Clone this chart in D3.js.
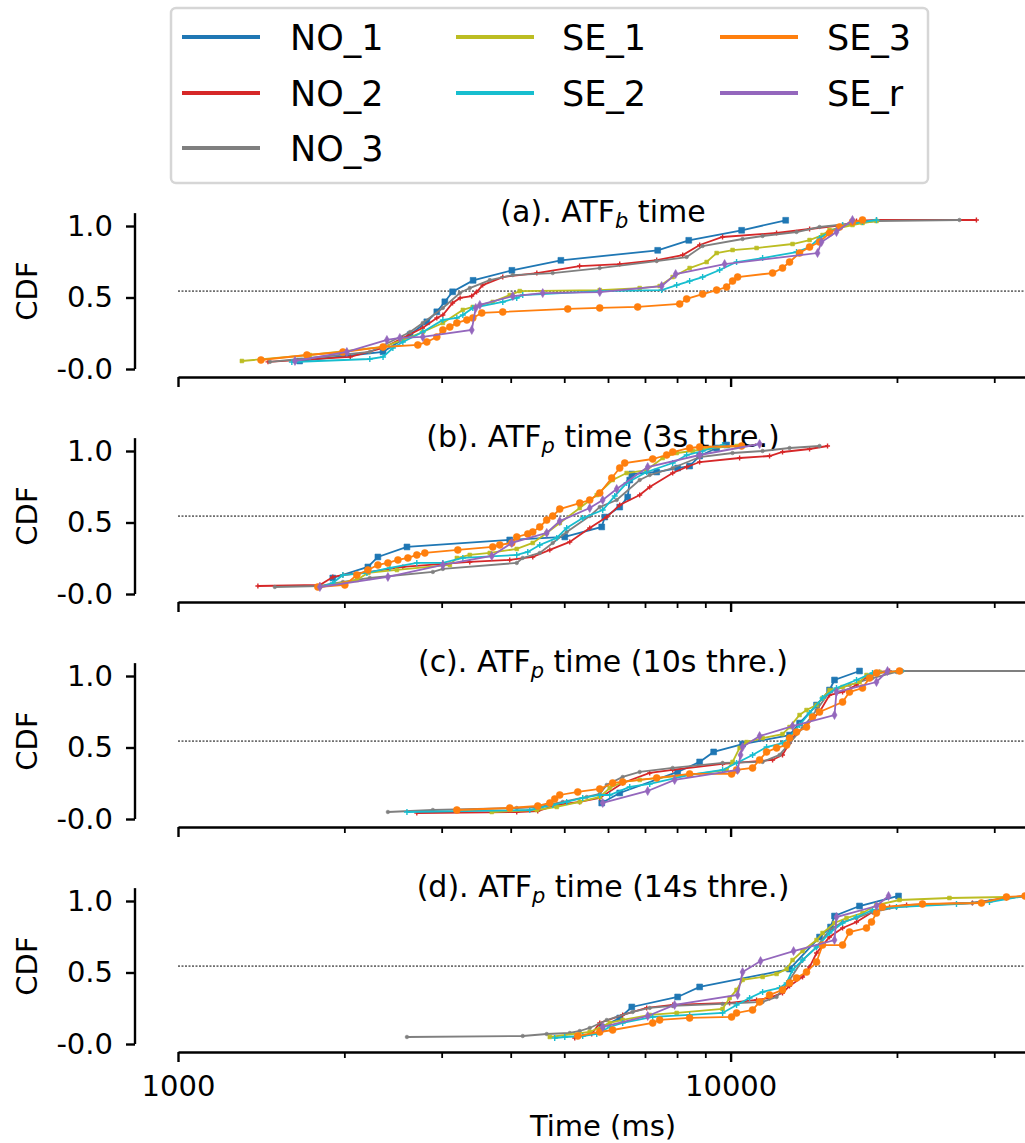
<!DOCTYPE html>
<html lang="en">
<head>
<meta charset="UTF-8">
<title>ATF time CDF</title>
<script src="https://d3js.org/d3.v7.min.js"></script>
<style>
    body { margin: 0; background: #fff; }
    svg { display: block; font-family: "DejaVu Sans", sans-serif; }
</style>
</head>
<body>
<svg id="chart" width="1025" height="1143"></svg>
<script>
    // series names and colours (legend order, column-wise)
    const seriesNames = ["NO_1", "NO_2", "NO_3", "SE_1", "SE_2", "SE_3", "SE_r"];
    const seriesColors = ["#1f77b4", "#d62728", "#7f7f7f", "#bcbd22", "#17becf", "#ff7f0e", "#9467bd"];

    const titleHead = ["(a). ATF", "(b). ATF", "(c). ATF", "(d). ATF"];
    const titleSub = ["b", "p", "p", "p"];
    const titleTail = [" time", " time (3s thre.)", " time (10s thre.)", " time (14s thre.)"];

    const yTicks = [0, 0.5, 1.0];
    const yTickLabels = ["-0.0", "0.5", "1.0"];
    const xMajorTicks = [1000, 10000];
    const xMinorTicks = [2000, 3000, 4000, 5000, 6000, 7000, 8000, 9000, 20000, 30000];
    const refLevel = 0.545;

    // [time ms, CDF]
    // (a) ATF_b time
    const a_NO_1 = [[1660,0.056],[2350,0.12],[2630,0.24],[2820,0.33],[2940,0.40],[3040,0.47],[3140,0.54],[3420,0.62],[4020,0.69],[4930,0.76],[7380,0.83],[8400,0.90],[10470,0.97],[12580,1.04]];
    const a_NO_2 = [[1455,0.05],[2050,0.085],[2350,0.147],[2550,0.217],[2770,0.287],[2940,0.357],[3015,0.378],[3140,0.462],[3240,0.497],[3400,0.51],[3470,0.538],[3560,0.587],[3870,0.643],[4460,0.671],[5330,0.72],[6300,0.734],[7350,0.762],[8190,0.797],[8790,0.867],[9670,0.923],[12110,0.951],[13900,0.979],[15950,1.007],[16900,1.035],[18370,1.042],[27850,1.042]];
    const a_NO_3 = [[1467,0.05],[1732,0.077],[2224,0.119],[2630,0.259],[2773,0.322],[3015,0.427],[3236,0.531],[3373,0.566],[3666,0.622],[4035,0.657],[4766,0.671],[5797,0.706],[7349,0.755],[8327,0.783],[8900,0.86],[10512,0.909],[11427,0.93],[13162,0.958],[14486,0.993],[18365,1.035],[25950,1.042]];
    const a_SE_1 = [[1305,0.056],[1732,0.098],[2350,0.154],[2552,0.203],[2773,0.259],[3015,0.322],[3277,0.413],[3416,0.434],[3712,0.469],[3984,0.517],[4154,0.545],[5797,0.552],[6847,0.566],[7442,0.58],[7856,0.643],[8431,0.706],[9050,0.748],[9434,0.811],[10083,0.832],[11143,0.846],[12946,0.874],[13897,0.902],[14669,0.937],[15102,0.972],[16617,1.007],[17326,1.021],[18365,1.035]];
    const a_SE_2 = [[1607,0.049],[2224,0.07],[2350,0.084],[2448,0.147],[2552,0.189],[2773,0.259],[3015,0.343],[3196,0.357],[3277,0.378],[3416,0.427],[3870,0.469],[4102,0.497],[4206,0.517],[5797,0.545],[7503,0.552],[7988,0.587],[8431,0.615],[8900,0.643],[9553,0.692],[10252,0.748],[11427,0.776],[13162,0.818],[13897,0.853],[14486,0.916],[15102,0.958],[15946,1.007],[17326,1.028],[18365,1.042]];
    const a_SE_3 = [[1413,0.063],[1711,0.098],[1988,0.119],[2350,0.154],[2716,0.168],[2820,0.189],[2940,0.224],[3015,0.273],[3104,0.294],[3196,0.322],[3332,0.343],[3416,0.357],[3546,0.392],[3870,0.399],[5074,0.42],[5797,0.427],[6789,0.434],[8088,0.455],[8327,0.49],[8900,0.524],[9434,0.552],[9835,0.573],[10083,0.615],[10297,0.643],[11912,0.671],[12416,0.706],[12785,0.748],[13329,0.811],[13897,0.853],[14486,0.888],[15102,0.951],[15744,0.993],[16617,1.028],[17326,1.042]];
    const a_SE_r = [[1628,0.056],[2021,0.119],[2388,0.203],[2520,0.217],[2773,0.224],[3401,0.273],[3458,0.427],[3517,0.448],[4035,0.51],[4571,0.531],[5797,0.538],[7503,0.58],[7954,0.664],[9754,0.734],[14365,0.811],[14608,0.888],[15546,0.958],[16617,1.042]];

    // (b) ATF_p time, 3s threshold
    const b_NO_1 = [[1906,0.112],[2206,0.189],[2300,0.259],[2596,0.329],[3984,0.378],[5011,0.399],[5845,0.469],[5919,0.538],[6300,0.608],[6513,0.678],[6569,0.797],[6625,0.839],[7349,0.853],[8020,0.881],[8431,0.895],[8790,0.965],[9434,1.021],[9835,1.042]];
    const b_NO_2 = [[1395,0.056],[1806,0.063],[1906,0.119],[1988,0.133],[2224,0.154],[2552,0.189],[3373,0.224],[3984,0.238],[4385,0.259],[4708,0.308],[5116,0.364],[5560,0.462],[5968,0.538],[6300,0.622],[6847,0.692],[7139,0.748],[7856,0.846],[8327,0.888],[8790,0.923],[10383,0.951],[11763,0.965],[12416,0.993],[13897,1.014],[14977,1.035]];
    const b_NO_3 = [[1497,0.049],[1806,0.056],[1988,0.084],[2224,0.112],[2892,0.154],[3015,0.175],[4102,0.217],[4206,0.252],[4515,0.287],[4766,0.357],[5051,0.434],[5560,0.545],[5797,0.608],[6221,0.657],[6847,0.797],[7139,0.832],[7856,0.881],[8790,0.958],[10083,0.986],[11427,1.0],[12785,1.021],[14486,1.035]];
    const b_SE_1 = [[1806,0.049],[2107,0.098],[2206,0.147],[2489,0.168],[3104,0.203],[3196,0.252],[3373,0.273],[3666,0.287],[4102,0.315],[4385,0.357],[4648,0.427],[4907,0.497],[5333,0.601],[5725,0.692],[6117,0.797],[6484,0.846],[7050,0.867],[7534,0.951],[7988,0.986],[8538,1.0],[9164,1.021],[10252,1.035]];
    const b_SE_2 = [[1806,0.049],[1906,0.077],[1988,0.133],[2197,0.147],[2418,0.182],[2705,0.217],[3015,0.217],[3277,0.252],[4102,0.273],[4295,0.294],[4515,0.343],[4846,0.392],[5051,0.462],[5400,0.531],[5869,0.587],[6170,0.685],[6484,0.776],[7050,0.853],[7856,0.916],[8327,0.972],[8900,1.0],[9672,1.042]];
    const b_SE_3 = [[1791,0.049],[2004,0.063],[2107,0.133],[2206,0.168],[2300,0.203],[2398,0.217],[2500,0.238],[2606,0.252],[2705,0.273],[2797,0.287],[3209,0.308],[3712,0.329],[3822,0.343],[4018,0.357],[4102,0.399],[4295,0.42],[4385,0.434],[4515,0.469],[4648,0.517],[4766,0.545],[4907,0.594],[5333,0.636],[5560,0.657],[5797,0.706],[6094,0.811],[6300,0.881],[6433,0.916],[7228,0.944],[7660,0.972],[7856,0.993],[8431,1.021],[8790,1.028],[10469,1.035]];
    const b_SE_r = [[1806,0.049],[2398,0.119],[3015,0.203],[3697,0.266],[4018,0.357],[4648,0.427],[4907,0.51],[5560,0.601],[5869,0.657],[6221,0.734],[7079,0.888],[8790,0.972],[11284,1.049]];

    // (c) ATF_p time, 10s threshold
    const c_NO_1 = [[5845,0.112],[6300,0.182],[8020,0.329],[8790,0.399],[9318,0.469],[10512,0.524],[12785,0.587],[13329,0.671],[14306,0.797],[15102,0.902],[15418,0.972],[17112,1.035]];
    const c_NO_2 = [[2705,0.042],[4102,0.049],[4477,0.056],[4846,0.098],[5333,0.119],[5797,0.147],[6378,0.252],[7139,0.322],[7856,0.343],[9672,0.385],[11912,0.413],[12416,0.448],[12785,0.531],[13162,0.601],[13722,0.657],[14486,0.748],[15102,0.867],[15946,0.888],[16900,0.937],[17617,0.993],[18598,1.028],[19393,1.035]];
    const c_NO_3 = [[2398,0.049],[2892,0.063],[4102,0.077],[4515,0.084],[4968,0.119],[5491,0.154],[5797,0.175],[5968,0.238],[6378,0.294],[6847,0.329],[7856,0.357],[9672,0.392],[11427,0.399],[12264,0.448],[12785,0.531],[13497,0.636],[14306,0.762],[15102,0.888],[16412,0.937],[18064,0.986],[19962,1.028],[20465,1.035],[36000,1.035]];
    const c_SE_1 = [[3697,0.049],[4460,0.063],[4846,0.084],[5333,0.119],[5797,0.154],[6043,0.217],[6378,0.259],[6847,0.273],[8431,0.308],[9835,0.343],[10083,0.399],[10383,0.497],[10688,0.538],[11427,0.566],[12416,0.594],[12785,0.643],[13329,0.727],[13722,0.762],[14306,0.797],[14669,0.846],[15102,0.902],[15946,0.923],[17112,0.958],[17617,1.007],[18598,1.028]];
    const c_SE_2 = [[2596,0.049],[4331,0.063],[4766,0.098],[5051,0.119],[5400,0.147],[5797,0.168],[6043,0.168],[6569,0.224],[7139,0.245],[8431,0.308],[9672,0.343],[10252,0.392],[10959,0.448],[11618,0.503],[12416,0.531],[12785,0.573],[13329,0.657],[13897,0.741],[14669,0.846],[15546,0.916],[16900,0.972],[18064,1.021],[20388,1.035]];
    const c_SE_3 = [[3196,0.063],[3984,0.077],[4477,0.091],[4708,0.112],[4805,0.14],[4907,0.168],[5290,0.189],[5797,0.21],[6117,0.252],[6378,0.259],[7349,0.287],[8431,0.315],[10041,0.315],[10252,0.343],[10959,0.357],[11284,0.413],[11618,0.469],[12113,0.497],[12630,0.517],[12785,0.566],[13162,0.608],[13722,0.643],[14069,0.713],[14486,0.748],[15946,0.818],[16412,0.888],[17326,0.916],[17840,0.986],[18365,1.021],[20213,1.035]];
    const c_SE_r = [[5869,0.112],[7079,0.196],[7920,0.273],[10297,0.343],[10425,0.448],[10512,0.503],[11284,0.58],[12946,0.65],[15418,0.727],[15546,0.888],[18365,0.958],[19230,1.035]];

    // (d) ATF_p time, 14s threshold
    const d_NO_1 = [[5845,0.119],[6300,0.182],[6625,0.259],[8020,0.329],[8790,0.399],[12785,0.524],[14486,0.748],[15166,0.818],[15418,0.895],[17112,0.965],[20130,1.035]];
    const d_NO_2 = [[5224,0.042],[5606,0.07],[5797,0.147],[6378,0.203],[7050,0.252],[7856,0.273],[9959,0.287],[11143,0.308],[11763,0.322],[12416,0.357],[12785,0.406],[13497,0.469],[13897,0.538],[14306,0.636],[15102,0.748],[15946,0.811],[16900,0.853],[18064,0.923],[19393,0.958],[20818,0.972],[27390,0.986],[31560,1.021],[34100,1.035]];
    const d_NO_3 = [[2596,0.049],[4206,0.056],[4648,0.07],[5116,0.077],[5333,0.091],[5560,0.112],[5968,0.168],[6649,0.224],[7139,0.252],[7856,0.266],[9672,0.28],[11427,0.294],[12113,0.329],[12785,0.448],[13497,0.587],[14306,0.678],[15102,0.797],[15946,0.853],[16900,0.881],[18064,0.923],[19962,0.958],[22240,0.972],[27390,0.986],[34100,1.035]];
    const d_SE_1 = [[4708,0.049],[5560,0.084],[6043,0.147],[6378,0.168],[7139,0.203],[7988,0.217],[9672,0.245],[9959,0.322],[10252,0.378],[10512,0.448],[11427,0.469],[12113,0.49],[12630,0.524],[12946,0.587],[13497,0.65],[14306,0.727],[14669,0.776],[15418,0.846],[16210,0.881],[17326,0.916],[18365,0.972],[20213,1.007],[24890,1.021],[31560,1.028]];
    const d_SE_2 = [[4805,0.042],[5011,0.049],[5400,0.056],[5725,0.07],[6043,0.119],[6378,0.147],[7228,0.189],[8431,0.203],[9672,0.217],[10252,0.273],[10824,0.322],[11427,0.364],[12264,0.392],[12630,0.427],[12946,0.517],[13497,0.587],[14306,0.678],[15102,0.776],[15946,0.846],[16900,0.888],[18064,0.937],[19962,0.958],[25630,0.979],[29410,0.993],[34100,1.035]];
    const d_SE_3 = [[5290,0.056],[5797,0.084],[6117,0.098],[7228,0.147],[7442,0.168],[8431,0.182],[10041,0.189],[10252,0.217],[10959,0.238],[11284,0.294],[11763,0.343],[12416,0.378],[12785,0.427],[13162,0.462],[13722,0.503],[14306,0.573],[14669,0.692],[15946,0.692],[16412,0.783],[17617,0.811],[17990,0.853],[18365,0.916],[18830,0.958],[22240,0.979],[28440,0.986],[31560,1.028],[34100,1.035]];
    const d_SE_r = [[5869,0.119],[7079,0.196],[7920,0.273],[10297,0.343],[10512,0.503],[11330,0.58],[13000,0.65],[15418,0.727],[15546,0.888],[18365,0.965],[19310,1.035]];

    const panels = [
        [a_NO_1, a_NO_2, a_NO_3, a_SE_1, a_SE_2, a_SE_3, a_SE_r],
        [b_NO_1, b_NO_2, b_NO_3, b_SE_1, b_SE_2, b_SE_3, b_SE_r],
        [c_NO_1, c_NO_2, c_NO_3, c_SE_1, c_SE_2, c_SE_3, c_SE_r],
        [d_NO_1, d_NO_2, d_NO_3, d_SE_1, d_SE_2, d_SE_3, d_SE_r]
    ];

    const svg = d3.select("#chart");
    const W = 1025;
    const left = 178, right = 1025;
    const panelStep = 225;
    const tickFont = 29;

    const x = d3.scaleLog().domain([1000, 34100]).range([left, right]);

    // marker shapes per series
    function marker(i) {
        if (i === 0) return { path: d3.symbol(d3.symbolSquare, 34)(), fill: true };
        if (i === 1) return { path: "M-2.5,0H2.5M0,-2.5V2.5", fill: false };
        if (i === 2) return { path: d3.symbol(d3.symbolCircle, 10)(), fill: true };
        if (i === 3) return { path: d3.symbol(d3.symbolSquare, 14)(), fill: true };
        if (i === 4) return { path: "M-3,0H3M0,-3V3", fill: false };
        if (i === 5) return { path: d3.symbol(d3.symbolCircle, 38)(), fill: true };
        return { path: "M0,-4.5L2.5,0L0,4.5L-2.5,0Z", fill: true };
    }

    panels.forEach((series, p) => {
        const y0 = 369 + panelStep * p;
        const y = d3.scaleLinear().domain([0, 1]).range([y0, y0 - 143]);
        const g = svg.append("g");

        // left spine + ticks
        g.append("line")
            .attr("x1", 135).attr("x2", 135)
            .attr("y1", y(1.09)).attr("y2", y(0))
            .attr("stroke", "#000").attr("stroke-width", 2.4);

        const yAxis = g.append("g")
            .attr("transform", "translate(135,0)")
            .call(d3.axisLeft(y).tickValues(yTicks).tickSize(9).tickPadding(13)
                .tickFormat((d, i) => yTickLabels[i]));
        yAxis.select(".domain").remove();
        yAxis.selectAll("line").attr("stroke-width", 2.4);
        yAxis.selectAll("text").attr("font-size", tickFont).attr("font-family", "DejaVu Sans").attr("fill", "#000");

        // bottom spine + ticks
        const xa = y0 + 8;
        const xAxis = g.append("g")
            .attr("transform", `translate(0,${xa})`)
            .call(d3.axisBottom(x).tickValues(xMajorTicks).tickSize(10).tickPadding(13).tickSizeOuter(0)
                .tickFormat(p === 3 ? d3.format("d") : () => ""));
        xAxis.select(".domain").attr("stroke-width", 2.4);
        xAxis.selectAll("line").attr("stroke-width", 2.4);
        xAxis.selectAll("text").attr("font-size", tickFont).attr("font-family", "DejaVu Sans").attr("fill", "#000");

        const xMinor = g.append("g")
            .attr("transform", `translate(0,${xa})`)
            .call(d3.axisBottom(x).tickValues(xMinorTicks).tickSize(6).tickSizeOuter(0).tickFormat(() => ""));
        xMinor.select(".domain").remove();
        xMinor.selectAll("line").attr("stroke-width", 1.8);

        // reference dotted line
        g.append("line")
            .attr("x1", left).attr("x2", right)
            .attr("y1", y(refLevel)).attr("y2", y(refLevel))
            .attr("stroke", "#000").attr("stroke-width", 1)
            .attr("stroke-dasharray", "2,1.5");

        // y label
        g.append("text")
            .attr("transform", `translate(37,${(y(1.09) + y(0)) / 2}) rotate(-90)`)
            .attr("text-anchor", "middle")
            .attr("font-size", tickFont)
            .text("CDF");

        // title with subscript
        const t = g.append("text")
            .attr("x", 603).attr("y", y0 - 147)
            .attr("text-anchor", "middle")
            .attr("font-size", 30);
        t.append("tspan").text(titleHead[p]);
        t.append("tspan").attr("font-size", 21).attr("font-style", "italic").attr("dy", 6).text(titleSub[p]);
        t.append("tspan").attr("dy", -6).text(titleTail[p]);

        // series
        const line = d3.line().x(d => x(d[0])).y(d => y(d[1]));
        series.forEach((data, i) => {
            const sg = g.append("g");
            sg.append("path")
                .datum(data)
                .attr("fill", "none")
                .attr("stroke", seriesColors[i])
                .attr("stroke-width", 1.8)
                .attr("d", line);
            const m = marker(i);
            sg.selectAll("path.mk")
                .data(data)
                .enter()
                .append("path")
                .attr("class", "mk")
                .attr("transform", d => `translate(${x(d[0])},${y(d[1])})`)
                .attr("d", m.path)
                .attr("fill", m.fill ? seriesColors[i] : "none")
                .attr("stroke", seriesColors[i])
                .attr("stroke-width", m.fill ? 0.6 : 1.4);
        });
    });

    // x axis label
    svg.append("text")
        .attr("x", 603).attr("y", 1136)
        .attr("text-anchor", "middle")
        .attr("font-size", tickFont)
        .text("Time (ms)");

    // legend
    const legend = svg.append("g");
    legend.append("rect")
        .attr("x", 171).attr("y", 8).attr("width", 757).attr("height", 175)
        .attr("rx", 5)
        .attr("fill", "#fff").attr("stroke", "#d6d6d6").attr("stroke-width", 2.5);

    const legendCols = [[182, 290], [456, 562], [720, 827]];
    const legendRows = [37, 93, 148];
    const legendPos = [[0, 0], [0, 1], [0, 2], [1, 0], [1, 1], [2, 0], [2, 1]];
    seriesNames.forEach((name, i) => {
        const [c, r] = legendPos[i];
        const ly = legendRows[r];
        legend.append("line")
            .attr("x1", legendCols[c][0]).attr("x2", legendCols[c][0] + 78)
            .attr("y1", ly).attr("y2", ly)
            .attr("stroke", seriesColors[i]).attr("stroke-width", 4);
        legend.append("text")
            .attr("x", legendCols[c][1]).attr("y", ly + 13)
            .attr("font-size", 35)
            .text(name);
    });
</script>
</body>
</html>
